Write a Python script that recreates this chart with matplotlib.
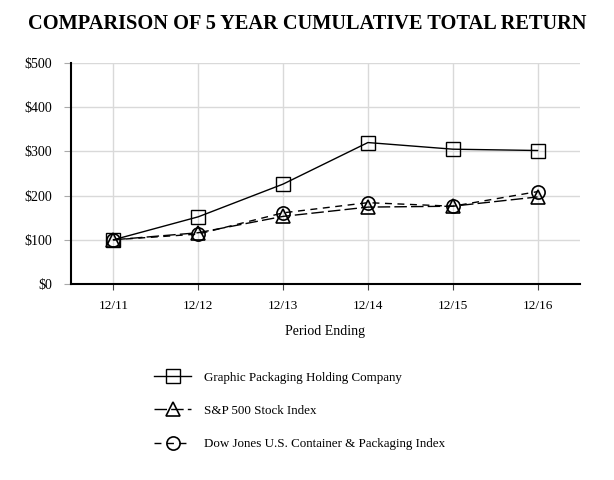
import matplotlib
matplotlib.use("Agg")
import matplotlib.pyplot as plt

# data
periods = ["12/11", "12/12", "12/13", "12/14", "12/15", "12/16"]
graphic_packaging = [100, 152, 226, 320, 305, 302]
sp500 = [100, 116, 153, 174, 176, 197]
dow_jones_pkg = [100, 113, 161, 184, 176, 209]
y_ticks = [0, 100, 200, 300, 400, 500]

plt.rcParams['font.family'] = ['Liberation Serif', 'DejaVu Serif']

fig = plt.figure(figsize=(6.14, 4.8), dpi=100)
ax = fig.add_axes([0.1156, 0.4083, 0.829, 0.4605])

x = range(len(periods))
ax.plot(x, graphic_packaging, color='black', lw=1, marker='s', ms=9.5,
        mfc='none', mec='black', mew=1, label='Graphic Packaging Holding Company')
ax.plot(x, sp500, color='black', lw=1, dashes=(9, 3), marker='^', ms=9.5,
        mfc='none', mec='black', mew=1.2, label='S&P 500 Stock Index')
ax.plot(x, dow_jones_pkg, color='black', lw=1, dashes=(5, 4), marker='o', ms=9.5,
        mfc='none', mec='black', mew=1.2, label='Dow Jones U.S. Container & Packaging Index')

ax.set_xlim(-0.5, len(periods) - 0.5)
ax.set_ylim(0, 500)
ax.set_xticks(list(x))
ax.set_xticklabels(periods, fontsize=9.5)
ax.set_yticks(y_ticks)
ax.set_yticklabels(["${0}".format(v) for v in y_ticks], fontsize=10)
ax.grid(True, color='#d9d9d9', lw=1)
ax.set_axisbelow(True)
ax.tick_params(axis='x', color='#444444', length=4.3, pad=7.5)
ax.tick_params(axis='y', color='#aaaaaa', length=5, pad=8.5)
for side in ['top', 'right']:
    ax.spines[side].set_visible(False)
for side in ['left', 'bottom']:
    ax.spines[side].set_linewidth(1.5)
ax.set_xlabel("Period Ending", fontsize=10, labelpad=9)

fig.suptitle("COMPARISON OF 5 YEAR CUMULATIVE TOTAL RETURN", fontsize=14.7,
             fontweight='bold', y=0.97)

handles, labels = ax.get_legend_handles_labels()
fig.legend(handles, labels, loc='upper left', bbox_to_anchor=(0.243, 0.237),
           frameon=False, fontsize=9.4, handlelength=2.8, handletextpad=1.0,
           labelspacing=1.62, borderaxespad=0)

fig.savefig("out.png", dpi=100)
